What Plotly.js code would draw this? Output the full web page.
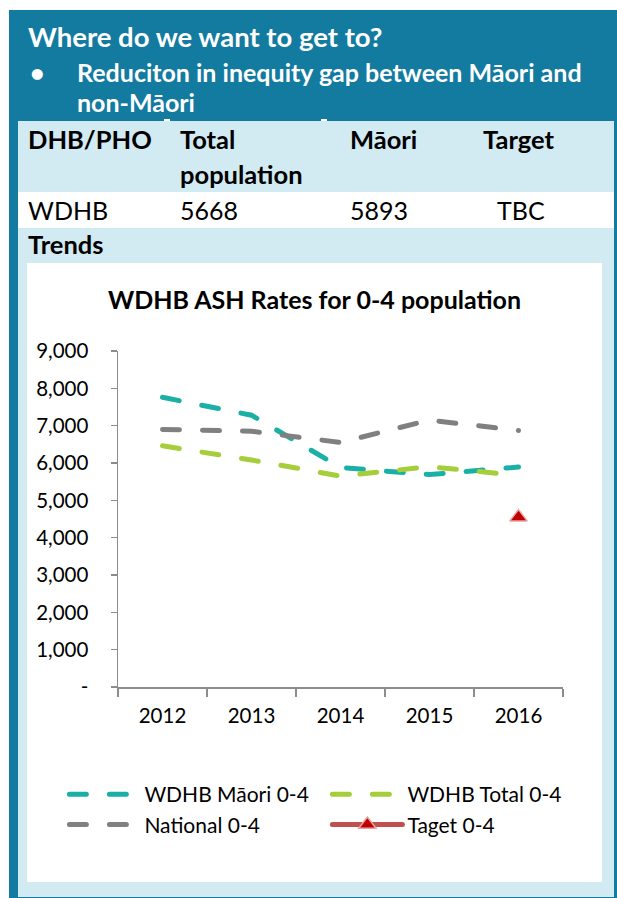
<!DOCTYPE html>
<html>
<head>
<meta charset="utf-8">
<script src="https://cdn.plot.ly/plotly-3.0.1.min.js"></script>
<style>
  html, body { margin: 0; padding: 0; background: #ffffff; }
  body { width: 617px; height: 898px; position: relative; overflow: hidden; font-family: Lato, "Open Sans", sans-serif; }
  .abs { position: absolute; }
  .t { position: absolute; line-height: 1.2; white-space: nowrap; }
  .hd { color: #ffffff; font-weight: bold; font-size: 25px; }
  .tb { color: #000000; font-size: 25px; }
  .b { font-weight: bold; font-size: 25.5px; }
  #chart path.js-line, #chart .legendlines path { stroke-linecap: round; }
</style>
</head>
<body>
<div class="abs" style="left:9px; top:10px; width:608px; height:888px; background:#137aa0;"></div>
<div class="abs" style="left:18px; top:121px; width:596px; height:776px; background:#d2eaf2;"></div>
<div class="abs" style="left:18px; top:192px; width:596px; height:36px; background:#ffffff;"></div>
<div class="abs" style="left:164px; top:119px; width:6px; height:2px; background:#ffffff;"></div>
<div class="abs" style="left:321px; top:119px; width:6px; height:2px; background:#ffffff;"></div>

<div class="t hd" style="left:28px; top:20px; font-size:27.5px;">Where do we want to get to?</div>
<div class="t hd" style="left:30px; top:57px;">•</div>
<div class="t hd" style="left:77px; top:57px;">Reduciton in inequity gap between Māori and</div>
<div class="t hd" style="left:77px; top:87px;">non-Māori</div>

<div class="t tb b" style="left:28px; top:124px;">DHB/PHO</div>
<div class="t tb b" style="left:180px; top:124px;">Total</div>
<div class="t tb b" style="left:180px; top:159px;">population</div>
<div class="t tb b" style="left:350px; top:124px;">Māori</div>
<div class="t tb b" style="left:483px; top:124px;">Target</div>

<div class="t tb" style="left:28px; top:195px;">WDHB</div>
<div class="t tb" style="left:180px; top:195px;">5668</div>
<div class="t tb" style="left:350px; top:195px;">5893</div>
<div class="t tb" style="left:497px; top:195px;">TBC</div>

<div class="t tb b" style="left:28px; top:229px;">Trends</div>

<div id="chart" class="abs" style="left:27px; top:263px; width:575px; height:619px; background:#ffffff;"></div>

<script>
const years = ['2012', '2013', '2014', '2015', '2016'];
const maori = [7760, 7280, 5880, 5690, 5893];
const total = [6460, 6080, 5650, 5900, 5668];
const national = [6900, 6850, 6550, 7150, 6870];
const target = [null, null, null, null, 4550];
const yTickVals = [0, 1000, 2000, 3000, 4000, 5000, 6000, 7000, 8000, 9000];
const yTickText = ['-', '1,000', '2,000', '3,000', '4,000', '5,000', '6,000', '7,000', '8,000', '9,000'];

const dashPat = '17px,23px';
const traces = [
  { x: years, y: maori, name: 'WDHB Māori 0-4', type: 'scatter', mode: 'lines',
    line: { color: '#1ab0a6', width: 5, dash: dashPat } },
  { x: years, y: total, name: 'WDHB Total 0-4', type: 'scatter', mode: 'lines',
    line: { color: '#a6ce3b', width: 5, dash: dashPat } },
  { x: years, y: national, name: 'National 0-4', type: 'scatter', mode: 'lines',
    line: { color: '#808080', width: 5, dash: dashPat } },
  { x: years, y: target, name: 'Taget 0-4', type: 'scatter', mode: 'lines+markers',
    line: { color: '#c0504d', width: 5 },
    marker: { symbol: 'triangle-up', size: 15, color: '#c00000', line: { color: '#e8a3a3', width: 1.5 } } }
];

const layout = {
  width: 575, height: 619,
  paper_bgcolor: '#ffffff', plot_bgcolor: '#ffffff',
  margin: { l: 91, r: 39, t: 88, b: 195 },
  font: { family: 'Lato, "Open Sans", sans-serif', size: 20.5, color: '#000000' },
  title: { text: '<b>WDHB ASH Rates for 0-4 population</b>', x: 0.5, xref: 'container', xanchor: 'center',
           y: 0.94, yref: 'container', yanchor: 'middle',
           font: { family: 'Lato, "Open Sans", sans-serif', size: 25, color: '#000000' } },
  showlegend: true,
  legend: { orientation: 'h', xref: 'paper', yref: 'paper', x: -0.1205, xanchor: 'left',
            y: -0.259, yanchor: 'top', itemwidth: 70, entrywidth: 178, entrywidthmode: 'pixels',
            font: { size: 21, color: '#000000' }, traceorder: 'normal', tracegroupgap: 0 },
  xaxis: { type: 'category', range: [-0.5, 4.5], showgrid: false, zeroline: false,
           showline: true, linecolor: '#8c8c8c', linewidth: 1.5,
           ticks: 'outside', tickson: 'boundaries', ticklen: 8, tickcolor: '#8c8c8c', tickwidth: 1.5,
           ticklabelstandoff: 10, tickfont: { size: 20.5 } },
  yaxis: { range: [0, 9000], showgrid: false, zeroline: false,
           showline: true, linecolor: '#8c8c8c', linewidth: 1.5,
           ticks: 'outside', ticklen: 6, tickcolor: '#8c8c8c', tickwidth: 1.5,
           tickvals: yTickVals, ticktext: yTickText, ticklabelstandoff: 18, tickfont: { size: 20.5 } }
};

Plotly.newPlot('chart', traces, layout, { staticPlot: true, displayModeBar: false });
</script>
</body>
</html>
